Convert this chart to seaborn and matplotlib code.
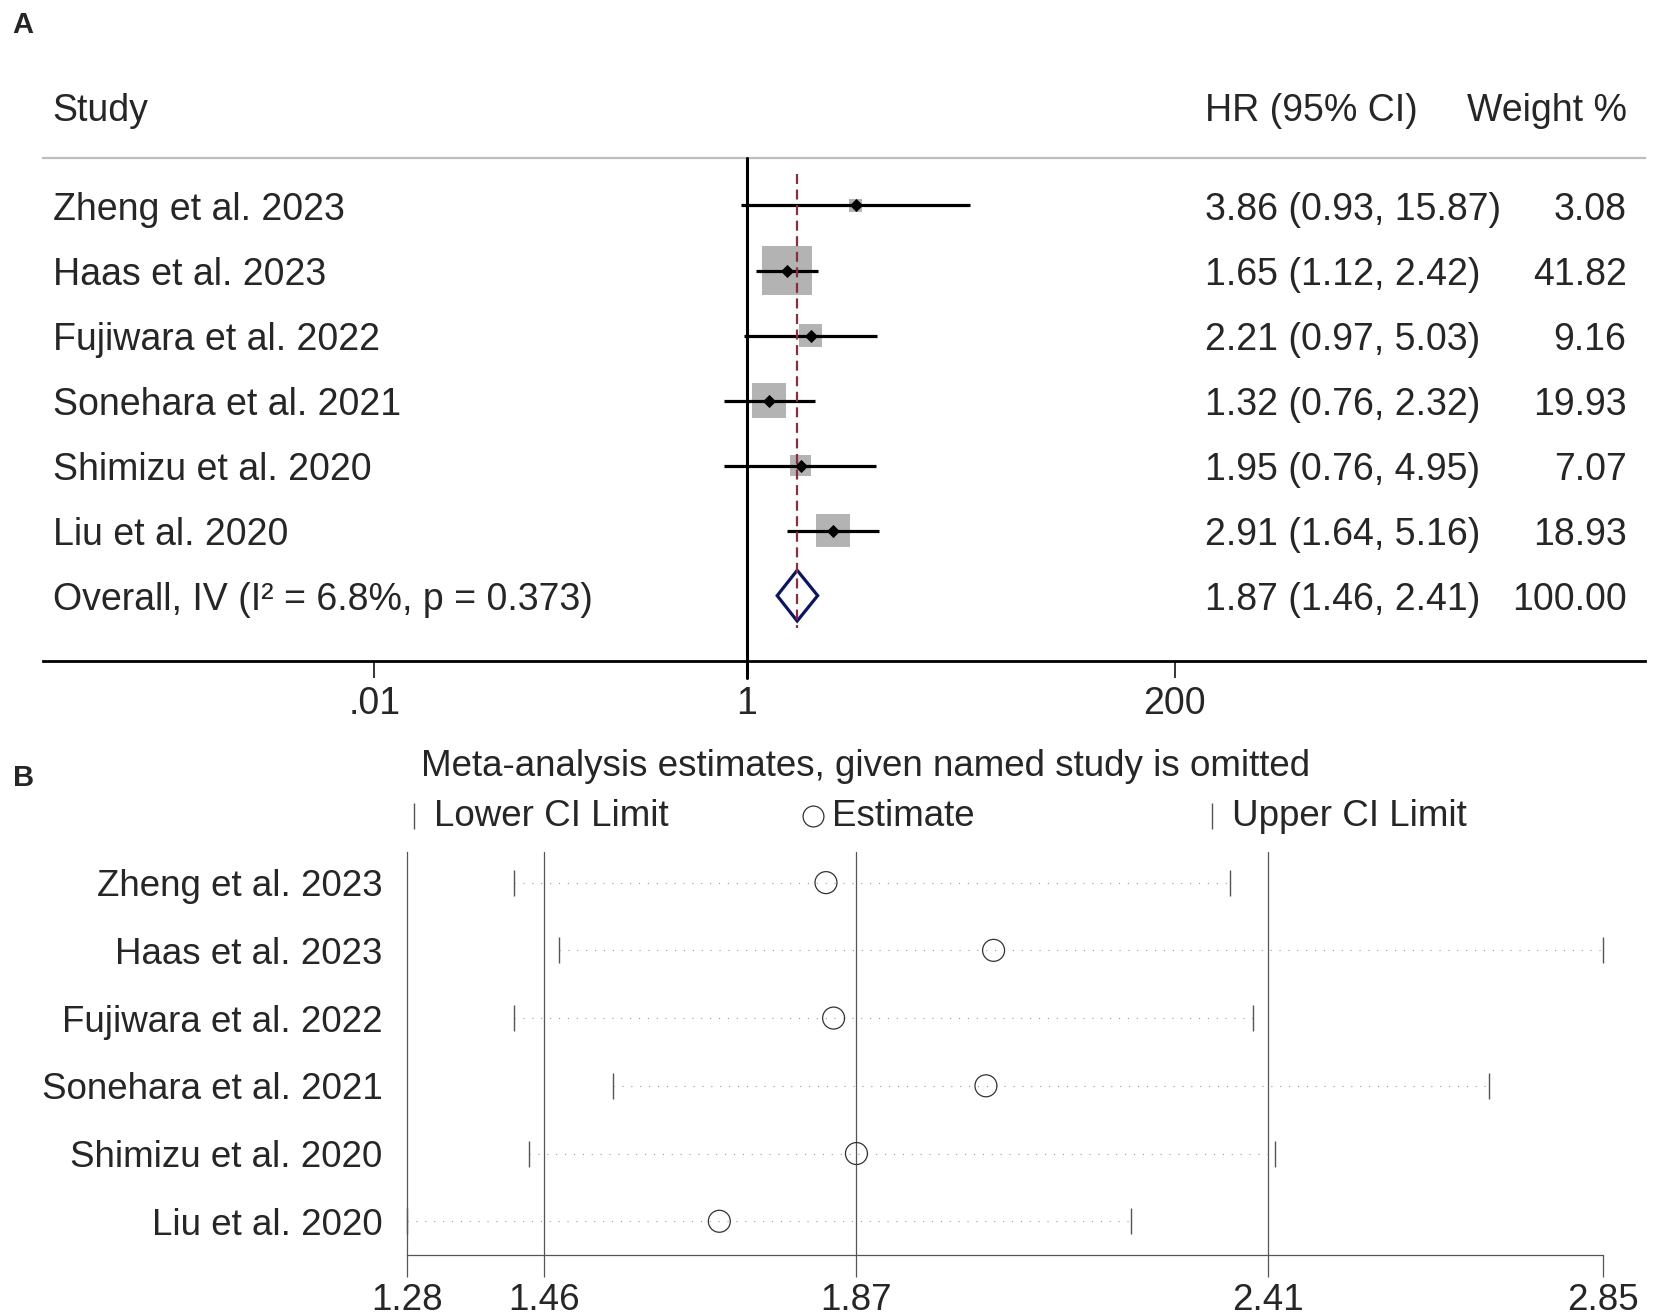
import numpy as np
import pandas as pd
import matplotlib
matplotlib.use("Agg")
import matplotlib.pyplot as plt
import seaborn as sns

# data - panel A (forest plot)
studies = ["Zheng et al. 2023", "Haas et al. 2023", "Fujiwara et al. 2022",
           "Sonehara et al. 2021", "Shimizu et al. 2020", "Liu et al. 2020"]
hr = [3.86, 1.65, 2.21, 1.32, 1.95, 2.91]
hr_lo = [0.93, 1.12, 0.97, 0.76, 0.76, 1.64]
hr_hi = [15.87, 2.42, 5.03, 2.32, 4.95, 5.16]
weight = [3.08, 41.82, 9.16, 19.93, 7.07, 18.93]
overall_hr, overall_lo, overall_hi = 1.87, 1.46, 2.41
overall_label = "Overall, IV (I\u00b2 = 6.8%, p = 0.373)"
overall_weight = 100.00
a_ticks = [0.01, 1, 200]
a_ticklabels = [".01", "1", "200"]

# data - panel B (leave-one-out)
omit_est = [1.83, 2.05, 1.84, 2.04, 1.87, 1.69]
omit_lo = [1.42, 1.48, 1.42, 1.55, 1.44, 1.28]
omit_hi = [2.36, 2.85, 2.39, 2.70, 2.42, 2.23]
b_ticks = [1.28, 1.46, 1.87, 2.41, 2.85]
b_ticklabels = ["1.28", "1.46", "1.87", "2.41", "2.85"]

sns.set_style("white")
plt.rcParams["font.family"] = ["Liberation Sans", "DejaVu Sans"]

W, H = 1654, 1315
fig = plt.figure(figsize=(W / 100, H / 100), dpi=100)

fs_a = 27
fs_b = 26.5

# ---------------- panel A ----------------
axA = fig.add_axes([43 / W, 1 - 661 / H, (1645 - 43) / W, (661 - 158) / H])
axA.set_xscale("log")
pos = np.arange(len(studies))
dfA = pd.DataFrame({"study": studies, "hr": hr, "lo": hr_lo, "hi": hr_hi,
                    "weight": weight, "pos": pos})

k = 30.5  # marker area per weight %
sns.scatterplot(data=dfA, x="hr", y="pos", size="weight",
                sizes=(min(weight) * k, max(weight) * k),
                size_norm=(min(weight), max(weight)),
                marker="s", color="#b3b3b3", linewidth=0, legend=False,
                ax=axA, zorder=2)
axA.hlines(dfA["pos"], dfA["lo"], dfA["hi"], color="black", lw=2.3, zorder=3)
sns.scatterplot(data=dfA, x="hr", y="pos", marker="D", s=45, color="black",
                linewidth=0, legend=False, ax=axA, zorder=4)

orow = len(studies)
dh = 0.39
axA.fill([overall_lo, overall_hr, overall_hi, overall_hr],
         [orow, orow - dh, orow, orow + dh],
         facecolor="none", edgecolor="#0d1466", lw=2.3, zorder=3)
axA.vlines(overall_hr, -0.49, orow + 0.49, color="#8c2d3b", lw=1.6,
           linestyles=(0, (4.5, 2.5)), zorder=5)

axA.set_xlim(10 ** -3.781, 10 ** 4.828)
axA.set_ylim(7.005, -0.730)
axA.axvline(1, ymin=-17 / 503, ymax=1, color="black", lw=2.2, clip_on=False, zorder=3)

for s in ["left", "right"]:
    axA.spines[s].set_visible(False)
axA.spines["top"].set_color("#bdbdbd")
axA.spines["top"].set_linewidth(1.6)
axA.spines["bottom"].set_color("black")
axA.spines["bottom"].set_linewidth(2.0)

axA.set_xticks(a_ticks)
axA.set_xticklabels(a_ticklabels)
axA.minorticks_off()
axA.set_yticks([])
axA.tick_params(axis="x", length=12, width=1.1, color="black",
                labelsize=fs_a, pad=6, bottom=True)
axA.set_xlabel("")
axA.set_ylabel("")

trA = axA.get_yaxis_transform()  # x in axes fraction, y in data
xs_col, hr_col, w_col = 0.0061, 0.7256, 0.9885
dy = 0.065  # small nudge so glyphs sit centred on the row
head_y = -1.524 + dy
axA.text(xs_col, head_y, "Study", transform=trA, fontsize=fs_a, va="center", clip_on=False)
axA.text(hr_col, head_y, "HR (95% CI)", transform=trA, fontsize=fs_a, va="center", clip_on=False)
axA.text(w_col, head_y, "Weight %", transform=trA, fontsize=fs_a, va="center", ha="right", clip_on=False)
for i in range(len(studies)):
    axA.text(xs_col, i + dy, studies[i], transform=trA, fontsize=fs_a, va="center")
    axA.text(hr_col, i + dy, f"{hr[i]:.2f} ({hr_lo[i]:.2f}, {hr_hi[i]:.2f})",
             transform=trA, fontsize=fs_a, va="center")
    axA.text(w_col, i + dy, f"{weight[i]:.2f}", transform=trA, fontsize=fs_a,
             va="center", ha="right")
axA.text(xs_col, orow + dy, overall_label, transform=trA, fontsize=fs_a, va="center")
axA.text(hr_col, orow + dy, f"{overall_hr:.2f} ({overall_lo:.2f}, {overall_hi:.2f})",
         transform=trA, fontsize=fs_a, va="center")
axA.text(w_col, orow + dy, f"{overall_weight:.2f}", transform=trA, fontsize=fs_a,
         va="center", ha="right")

# ---------------- panel B ----------------
axB = fig.add_axes([407 / W, 1 - 1255 / H, (1603 - 407) / W, (1255 - 852) / H])
dfB = pd.DataFrame({"study": studies, "est": omit_est, "lo": omit_lo,
                    "hi": omit_hi, "pos": pos})

for v in [overall_lo, overall_hr, overall_hi]:
    axB.axvline(v, color="#555555", lw=0.9, zorder=1)
axB.hlines(dfB["pos"], dfB["lo"], dfB["hi"], color="#9a9a9a", lw=0.8,
           linestyles=(0, (1, 7)), zorder=2)
sns.scatterplot(data=dfB, x="lo", y="pos", marker="|", s=370, color="#555555",
                linewidth=1.0, legend=False, ax=axB, zorder=3, clip_on=False)
sns.scatterplot(data=dfB, x="hi", y="pos", marker="|", s=370, color="#555555",
                linewidth=1.0, legend=False, ax=axB, zorder=3, clip_on=False)
sns.scatterplot(data=dfB, x="est", y="pos", marker="o", s=250, color="#333333",
                facecolors="none", edgecolor="#333333", linewidth=0.9,
                legend=False, ax=axB, zorder=4)

axB.set_xlim(b_ticks[0], b_ticks[-1])
axB.set_ylim(5.498, -0.452)
for s in ["top", "right"]:
    axB.spines[s].set_visible(False)
for s in ["left", "bottom"]:
    axB.spines[s].set_color("#555555")
    axB.spines[s].set_linewidth(0.9)
axB.set_xticks(b_ticks)
axB.set_xticklabels(b_ticklabels)
axB.set_yticks(pos)
axB.set_yticklabels(studies)
axB.tick_params(axis="x", length=15.5, width=0.9, color="#555555",
                labelsize=fs_b, pad=4.5, bottom=True)
axB.tick_params(axis="y", length=0, labelsize=fs_b, pad=17.5)
axB.set_xlabel("")
axB.set_ylabel("")

fig.text(866 / W, 1 - 767 / H, "Meta-analysis estimates, given named study is omitted",
         fontsize=fs_b, ha="center", va="center")
ly = 1 - 816 / H
fig.lines.append(plt.Line2D([414.5 / W], [ly], marker="|", markersize=19, color="#555555",
                            mew=1.0, transform=fig.transFigure))
fig.text(433.5 / W, ly, "Lower CI Limit", fontsize=fs_b, va="center")
fig.lines.append(plt.Line2D([813 / W], [ly], marker="o", markersize=15, mfc="none",
                            mec="#333333", mew=0.9, transform=fig.transFigure))
fig.text(832 / W, ly, "Estimate", fontsize=fs_b, va="center")
fig.lines.append(plt.Line2D([1211.7 / W], [ly], marker="|", markersize=19, color="#555555",
                            mew=1.0, transform=fig.transFigure))
fig.text(1231.8 / W, ly, "Upper CI Limit", fontsize=fs_b, va="center")

# panel letters
fig.text(12 / W, 1 - 25 / H, "A", fontsize=21, fontweight="bold", va="center")
fig.text(13 / W, 1 - 778 / H, "B", fontsize=21, fontweight="bold", va="center")

fig.savefig("out.png", dpi=100)
